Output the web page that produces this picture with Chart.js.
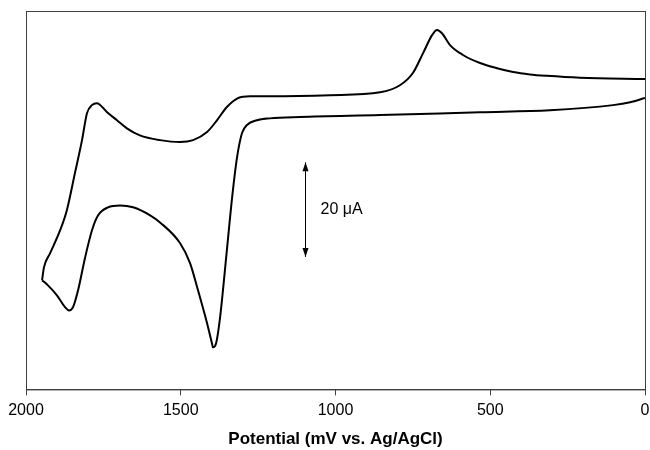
<!DOCTYPE html>
<html>
<head>
<meta charset="utf-8">
<script src="https://cdn.jsdelivr.net/npm/chart.js@4/dist/chart.umd.min.js"></script>
<style>
  html, body { margin: 0; padding: 0; background: #fff; }
  #wrap { width: 650px; height: 450px; }
</style>
</head>
<body>
<div id="wrap"><canvas id="cv"></canvas></div>
<script>
// varredura de ida (0 -> 1948 mV), corrente em uA (offset arbitrario)
var potencialIda = [0, 210, 317, 372, 426, 478, 533, 588, 630, 656, 672, 688, 717, 750, 792, 856, 1018, 1212, 1276, 1315, 1351, 1383, 1415, 1460, 1502, 1567, 1632, 1674, 1706, 1738, 1771, 1787, 1803, 1819, 1842, 1868, 1890, 1922, 1942, 1948];
var correnteIda = [65.6, 65.9, 66.3, 66.6, 67.1, 67.9, 69.0, 70.7, 72.8, 75.3, 76.0, 74.9, 71.1, 66.9, 64.3, 62.8, 62.2, 62.0, 62.0, 61.6, 59.7, 56.9, 54.4, 52.7, 52.3, 52.7, 53.7, 55.2, 56.9, 58.6, 60.5, 60.1, 58.4, 52.7, 45.7, 37.9, 33.6, 28.8, 25.8, 23.1];
// varredura de volta (1948 -> 0 mV)
var potencialVolta = [1948, 1929, 1900, 1874, 1861, 1848, 1832, 1809, 1787, 1767, 1735, 1696, 1654, 1599, 1567, 1502, 1470, 1444, 1415, 1399, 1396, 1386, 1373, 1351, 1334, 1318, 1302, 1286, 1254, 1212, 1115, 856, 533, 307, 103, 48, 0];
var correnteVolta = [23.1, 22.0, 19.9, 17.4, 16.7, 17.4, 20.9, 27.9, 33.6, 36.8, 38.5, 38.9, 38.5, 36.8, 35.3, 30.9, 26.7, 20.9, 14.0, 9.7, 8.9, 9.7, 15.2, 29.4, 40.6, 49.1, 54.2, 55.9, 56.9, 57.3, 57.6, 58.0, 58.6, 59.0, 60.1, 60.7, 61.6];
var ticksX = [2000, 1500, 1000, 500, 0];

function juntar(xs, ys) {
    return xs.map(function(v, i) { return {x: v, y: ys[i]}; });
}

var moldura = {
    id: 'moldura',
    afterDraw: function(chart) {
        var ctx = chart.ctx, a = chart.chartArea;
        ctx.save();
        ctx.strokeStyle = '#404040';
        ctx.lineWidth = 1;
        ctx.strokeRect(a.left + 0.5, a.top + 0.5, a.right - a.left, a.bottom - a.top);

        // escala de 20 uA
        var xs = chart.scales.x, ys = chart.scales.y;
        var px = Math.round(xs.getPixelForValue(1100)) + 0.5;
        var y1 = ys.getPixelForValue(48), y2 = ys.getPixelForValue(28);
        ctx.strokeStyle = '#000';
        ctx.fillStyle = '#000';
        ctx.beginPath();
        ctx.moveTo(px, y1); ctx.lineTo(px, y2);
        ctx.stroke();
        ctx.beginPath();
        ctx.moveTo(px, y1); ctx.lineTo(px - 3, y1 + 9); ctx.lineTo(px + 3, y1 + 9); ctx.closePath();
        ctx.fill();
        ctx.beginPath();
        ctx.moveTo(px, y2); ctx.lineTo(px - 3, y2 - 9); ctx.lineTo(px + 3, y2 - 9); ctx.closePath();
        ctx.fill();
        ctx.font = '16px "Liberation Sans", Arial, sans-serif';
        ctx.textBaseline = 'middle';
        ctx.fillText('20 \u03bcA', px + 15, (y1 + y2) / 2);
        ctx.restore();
    }
};

var estilo = {
    showLine: true,
    borderColor: '#000',
    borderWidth: 2,
    pointRadius: 0,
    cubicInterpolationMode: 'monotone'
};

new Chart(document.getElementById('cv'), {
    type: 'scatter',
    data: {
        datasets: [
            Object.assign({ data: juntar(potencialIda, correnteIda) }, estilo),
            Object.assign({ data: juntar(potencialVolta, correnteVolta) }, estilo)
        ]
    },
    options: {
        responsive: true,
        maintainAspectRatio: false,
        animation: false,
        layout: { padding: { left: 26, right: 5, top: 11, bottom: 0 } },
        plugins: { legend: { display: false }, tooltip: { enabled: false } },
        scales: {
            x: {
                type: 'linear',
                reverse: true,
                min: 0,
                max: 2000,
                afterBuildTicks: function(s) { s.ticks = ticksX.map(function(v) { return {value: v}; }); },
                afterFit: function(s) { s.paddingLeft = 0; s.paddingRight = 0; },
                grid: { drawOnChartArea: false, tickLength: 6, color: '#404040' },
                border: { color: '#404040' },
                ticks: {
                    color: '#000',
                    padding: 6,
                    maxRotation: 0,
                    callback: function(v) { return String(v); },
                    font: { family: '"Liberation Sans", Arial, sans-serif', size: 16 }
                },
                title: {
                    display: true,
                    text: 'Potential (mV vs. Ag/AgCl)',
                    color: '#000',
                    padding: { top: 3, bottom: 0 },
                    font: { family: '"Liberation Sans", Arial, sans-serif', size: 17, weight: 'bold' }
                }
            },
            y: {
                display: false,
                min: 0,
                max: 80
            }
        }
    },
    plugins: [moldura]
});
</script>
</body>
</html>
